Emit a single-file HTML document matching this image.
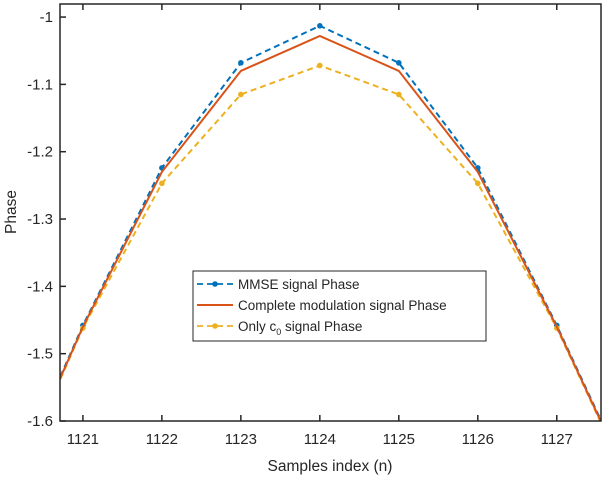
<!DOCTYPE html>
<html><head><meta charset="utf-8"><style>
html,body{margin:0;padding:0;background:#fff;overflow:hidden;width:612px;height:478px}
svg{display:block}
text{font-family:"Liberation Sans",Arial,sans-serif;fill:#262626}
</style></head><body>
<svg width="612" height="478" xmlns="http://www.w3.org/2000/svg">
<defs><clipPath id="clip"><rect x="60" y="4" width="541" height="417"/></clipPath></defs>
<rect width="612" height="478" fill="#fff"/>
<g id="axes"></g>
<g id="series" clip-path="url(#clip)"></g>
<g id="frame"></g>
<g id="legend">
<rect x="193" y="271" width="293" height="70" fill="#fff" stroke="#262626" stroke-width="1"/>
<g>
<line x1="197" y1="284" x2="233" y2="284" stroke="#0072BD" stroke-width="1.8" stroke-dasharray="6,4"/><circle cx="215" cy="284" r="2.8" fill="#0072BD"/>
<text x="238" y="289" font-size="13.5">MMSE signal Phase</text></g>
<g>
<line x1="197" y1="305" x2="233" y2="305" stroke="#D95319" stroke-width="2"/>
<text x="238" y="310" font-size="13.5">Complete modulation signal Phase</text></g>
<g>
<line x1="197" y1="326" x2="233" y2="326" stroke="#EDB120" stroke-width="1.8" stroke-dasharray="6,4"/><circle cx="215" cy="326" r="2.8" fill="#EDB120"/>
<text x="238" y="331" font-size="13.5">Only c<tspan font-size="9" dy="4">0</tspan><tspan dy="-4"> signal Phase</tspan></text></g>
</g>
<text x="330" y="471" font-size="15.5" text-anchor="middle">Samples index (n)</text>
<text transform="translate(16,212) rotate(-90)" font-size="15.5" text-anchor="middle">Phase</text>
<script>
const samples=[1120,1121,1122,1123,1124,1125,1126,1127,1128];
const mmse=[-1.724,-1.458,-1.224,-1.068,-1.013,-1.068,-1.224,-1.458,-1.71];
const complete=[-1.726,-1.46,-1.23,-1.08,-1.028,-1.08,-1.23,-1.46,-1.712];
const onlyC0=[-1.728,-1.462,-1.247,-1.115,-1.072,-1.115,-1.247,-1.462,-1.714];
const xTicks=[1121,1122,1123,1124,1125,1126,1127];
const yTicks=[-1,-1.1,-1.2,-1.3,-1.4,-1.5,-1.6];
const L=60,R=601,T=4,B=421,x0=1120.71,x1=1127.56,y0=-1.6,y1=-0.9806;
const sx=v=>L+(v-x0)/(x1-x0)*(R-L);
const sy=v=>B-(v-y0)/(y1-y0)*(B-T);
const NS="http://www.w3.org/2000/svg";
function mk(tag,attrs,parent){const e=document.createElementNS(NS,tag);for(const k in attrs)e.setAttribute(k,attrs[k]);parent.appendChild(e);return e;}
const axes=document.getElementById('axes'),ser=document.getElementById('series'),fr=document.getElementById('frame');
xTicks.forEach(t=>{const x=sx(t);
const l=mk('line',{x1:x,x2:x,y1:B,y2:B-6,stroke:'#262626','stroke-width':1.5},fr);


const l2=mk('line',{x1:x,x2:x,y1:T,y2:T+6,stroke:'#262626','stroke-width':1.5},fr);


const tx=mk('text',{x:x,y:B+23,'font-size':15,'text-anchor':'middle'},axes);tx.textContent=t;

});
yTicks.forEach(t=>{const y=sy(t);
const l=mk('line',{x1:L,x2:L+6,y1:y,y2:y,stroke:'#262626','stroke-width':1.5},fr);


const tx=mk('text',{x:L-7,y:y+5,'font-size':15,'text-anchor':'end'},axes);tx.textContent=String(t);

});
const f=mk('rect',{x:L,y:T,width:R-L,height:B-T,fill:'none',stroke:'#262626','stroke-width':1.5},fr);


function draw(vals,color,dash,markers,name){
const pts=samples.map((s,i)=>sx(s)+','+sy(vals[i])).join(' ');
const p=mk('polyline',{points:pts,fill:'none',stroke:color,'stroke-width':2,'stroke-dasharray':dash||'none'},ser);


if(markers)samples.forEach((s,i)=>{const c=mk('circle',{cx:sx(s),cy:sy(vals[i]),r:2.8,fill:color},ser);

});}
draw(mmse,'#0072BD','6,4',true,'mmse');
draw(onlyC0,'#EDB120','6,4',true,'only-c0');
draw(complete,'#D95319',null,false,'complete');
</script>
</svg>
</body></html>
